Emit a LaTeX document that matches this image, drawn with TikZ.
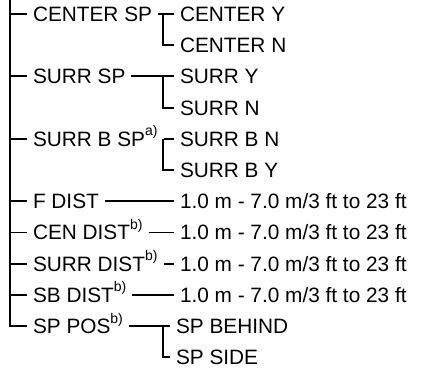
\documentclass[tikz,border=0pt]{standalone}
\usepackage{fontspec}
\setmainfont{Liberation Sans}
\usetikzlibrary{positioning}
\newcommand{\fnote}[1]{\raisebox{0.95ex}{\fontsize{7}{7}\selectfont #1}}

\begin{document}
\begin{tikzpicture}[
    x=0.5pt, y=-0.5pt,
    item/.style={anchor=west, inner xsep=2.8pt, inner ysep=0pt, text height=7.5pt, text depth=0pt, font=\fontsize{10.4}{12}\selectfont},
    link/.style={line width=0.9pt}
  ]
    \useasboundingbox (0,0) rectangle (422,369);
    \coordinate (root) at (10,0);
    \coordinate (bx) at (163,0);

    % first level
    \node[item] (csp) at (27,14) {CENTER SP};
    \node[item] (ssp) at (27,76.4) {SURR SP};
    \node[item] (sbsp) at (27,138.8) {SURR B SP\fnote{a)}};
    \node[item] (fd) at (27,201.2) {F DIST};
    \node[item] (cd) at (27,232.4) {CEN DIST\fnote{b)}};
    \node[item] (sd) at (27,263.6) {SURR DIST\fnote{b)}};
    \node[item] (sbd) at (27,294.8) {SB DIST\fnote{b)}};
    \node[item] (spp) at (27,326) {SP POS\fnote{b)}};

    % second level
    \node[item] (cy) at (174,14) {CENTER Y};
    \node[item] (cn) at (174,45.2) {CENTER N};
    \node[item] (sy) at (174,76.4) {SURR Y};
    \node[item] (sn) at (174,107.6) {SURR N};
    \node[item] (sbn) at (174,138.8) {SURR B N};
    \node[item] (sby) at (174,170) {SURR B Y};
    \node[item] (fdv) at (174,201.2) {1.0 m - 7.0 m/3 ft to 23 ft};
    \node[item] (cdv) at (174,232.4) {1.0 m - 7.0 m/3 ft to 23 ft};
    \node[item] (sdv) at (174,263.6) {1.0 m - 7.0 m/3 ft to 23 ft};
    \node[item] (sbdv) at (174,294.8) {1.0 m - 7.0 m/3 ft to 23 ft};
    \node[item] (spb) at (170,326) {SP BEHIND};
    \node[item] (sps) at (170,357.2) {SP SIDE};

    % spine
    \draw[link] (root) |- (spp.west);
    \draw[link] (root |- csp.west) -- (csp.west);
    \draw[link] (root |- ssp.west) -- (ssp.west);
    \draw[link] (root |- sbsp.west) -- (sbsp.west);
    \draw[link] (root |- fd.west) -- (fd.west);
    \draw[link] (root |- cd.west) -- (cd.west);
    \draw[link] (root |- sd.west) -- (sd.west);
    \draw[link] (root |- sbd.west) -- (sbd.west);

    % branches
    \draw[link] (csp.east) -- (cy.west);
    \draw[link] (csp.east -| bx) |- (cn.west);
    \draw[link] (ssp.east) -- (sy.west);
    \draw[link] (ssp.east -| bx) |- (sn.west);
    \draw[link] (sbsp.east) -- (sbn.west);
    \draw[link] (sbsp.east -| bx) |- (sby.west);
    \draw[link] (fd.east) -- (fdv.west);
    \draw[link] (cd.east) -- (cdv.west);
    \draw[link] (sd.east) -- (sdv.west);
    \draw[link] (sbd.east) -- (sbdv.west);
    \draw[link] (spp.east) -- (spb.west);
    \draw[link] (spp.east -| bx) |- (sps.west);
  \end{tikzpicture}
\end{document}
